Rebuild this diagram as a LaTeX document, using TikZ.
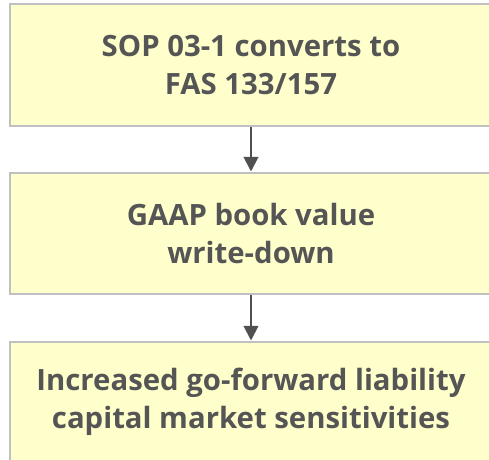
\documentclass[tikz,border=0pt]{standalone}
\usepackage{fontspec}
\setmainfont{Open Sans}
\usepackage{tikz}
\usetikzlibrary{arrows.meta}
\definecolor{mypaleyellow}{RGB}{255, 255, 204}
\definecolor{myboxgray}{RGB}{192, 192, 192}
\definecolor{mytextgray}{RGB}{85, 85, 85}
\definecolor{myarrowgray}{RGB}{80, 80, 80}
\tikzset{every picture/.style={line width=0.75pt}}
\tikzset{
  flowbox/.style={draw=myboxgray, fill=mypaleyellow, line width=1.5pt,
    minimum width=361.5pt, minimum height=90.75pt, inner sep=0pt,
    align=center, text=mytextgray,
    font=\fontsize{22}{28.5}\selectfont\bfseries},
  flowarrow/.style={draw=myarrowgray, line width=1.5pt,
    -{Triangle[width=11pt,length=11pt]}}
}
\begin{document}
\begin{tikzpicture}[x=0.75pt,y=0.75pt,yscale=-1,xscale=1]
\useasboundingbox (0,0) rectangle (489,460);
\clip (0,0) rectangle (489,460);
%Boxes
\node [flowbox] (sop) at (251,65) {SOP 03-1 converts to\\FAS 133/157};
\node [flowbox] (gaap) at (251,233) {GAAP book value\\write-down};
\node [flowbox] (capmkt) at (251,402) {Increased go-forward liability\\capital market sensitivities};
%Arrows
\draw [flowarrow] (sop) -- (gaap);
\draw [flowarrow] (gaap) -- (capmkt);
\end{tikzpicture}
\end{document}
